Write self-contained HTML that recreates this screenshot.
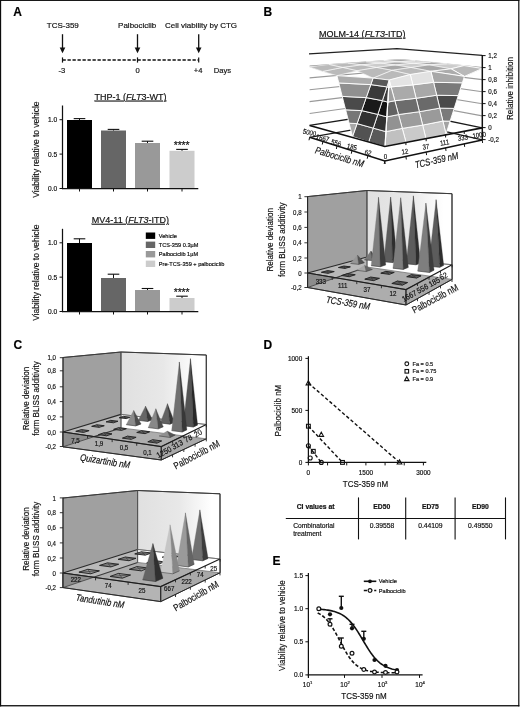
<!DOCTYPE html>
<html lang="en">
<head>
<meta charset="utf-8">
<title>Figure</title>
<style>
html,body{margin:0;padding:0;background:#fff;}
body{width:520px;height:707px;overflow:hidden;position:relative;}
svg{position:absolute;left:0;top:0;display:block;will-change:transform;font-family:"Liberation Sans", sans-serif;}
svg text{stroke:#111;stroke-width:0.18px;}
</style>
</head>
<body>
<svg width="520" height="707" viewBox="0 0 520 707">
<g id="frame" fill="#0c0c0c"><rect x="0" y="0" width="519.4" height="0.95"/><rect x="0" y="0" width="1.15" height="706.4"/><rect x="518.2" y="0" width="1.2" height="706.4"/><rect x="0" y="705.1" width="519.4" height="1.3"/></g>
<g id="panelA">
<text transform="translate(13.2 16)" font-size="12" text-anchor="start" fill="#000" font-weight="bold">A</text>
<text transform="translate(62.8 28.3)" font-size="8" text-anchor="middle" fill="#111">TCS-359</text>
<text transform="translate(137.2 28.3)" font-size="8" text-anchor="middle" fill="#111">Palbociclib</text>
<text transform="translate(201 28.3)" font-size="8" text-anchor="middle" fill="#111">Cell viability by CTG</text>
<line x1="62.5" y1="34.2" x2="62.5" y2="50" stroke="#111" stroke-width="1.3"/>
<polygon points="59.7,47.6 65.3,47.6 62.5,53.2" fill="#111" stroke="none" stroke-width="0.5"/>
<line x1="62.5" y1="57.4" x2="62.5" y2="62.6" stroke="#111" stroke-width="1.2"/>
<line x1="137.5" y1="34.2" x2="137.5" y2="50" stroke="#111" stroke-width="1.3"/>
<polygon points="134.7,47.6 140.3,47.6 137.5,53.2" fill="#111" stroke="none" stroke-width="0.5"/>
<line x1="137.5" y1="57.4" x2="137.5" y2="62.6" stroke="#111" stroke-width="1.2"/>
<line x1="198.7" y1="34.2" x2="198.7" y2="50" stroke="#111" stroke-width="1.3"/>
<polygon points="195.9,47.6 201.5,47.6 198.7,53.2" fill="#111" stroke="none" stroke-width="0.5"/>
<line x1="198.7" y1="57.4" x2="198.7" y2="62.6" stroke="#111" stroke-width="1.2"/>
<line x1="62.5" y1="60" x2="198.7" y2="60" stroke="#111" stroke-width="1.3" stroke-dasharray="3.3 1.7"/>
<text transform="translate(61.8 73)" font-size="7.6" text-anchor="middle" fill="#111">-3</text>
<text transform="translate(137.5 73)" font-size="7.6" text-anchor="middle" fill="#111">0</text>
<text transform="translate(198.2 73)" font-size="7.6" text-anchor="middle" fill="#111">+4</text>
<text transform="translate(213.8 73)" font-size="7.6" text-anchor="start" fill="#111">Days</text>
<text x="130.5" y="99.6" font-size="9" text-anchor="middle" fill="#111" text-decoration="underline">THP-1 (<tspan font-style="italic">FLT</tspan>3-WT)</text>
<text transform="translate(38.8 149.6) rotate(-90) scale(0.86 1)" font-size="9.8" text-anchor="middle" fill="#111">Viability relative to vehicle</text>
<rect x="67" y="120" width="25" height="68.5" fill="#000000" stroke="none" stroke-width="0.5"/>
<line x1="79.5" y1="120" x2="79.5" y2="118.6" stroke="#111" stroke-width="1"/>
<line x1="73.7" y1="118.6" x2="85.3" y2="118.6" stroke="#111" stroke-width="1.1"/>
<rect x="101" y="130.5" width="25" height="58" fill="#666666" stroke="none" stroke-width="0.5"/>
<line x1="113.5" y1="130.5" x2="113.5" y2="129.4" stroke="#111" stroke-width="1"/>
<line x1="107.7" y1="129.4" x2="119.3" y2="129.4" stroke="#111" stroke-width="1.1"/>
<rect x="135" y="143" width="25" height="45.5" fill="#999999" stroke="none" stroke-width="0.5"/>
<line x1="147.5" y1="143" x2="147.5" y2="141.2" stroke="#111" stroke-width="1"/>
<line x1="141.7" y1="141.2" x2="153.3" y2="141.2" stroke="#111" stroke-width="1.1"/>
<rect x="169.5" y="150.8" width="25" height="37.7" fill="#cccccc" stroke="none" stroke-width="0.5"/>
<line x1="182" y1="150.8" x2="182" y2="149.4" stroke="#111" stroke-width="1"/>
<line x1="176.2" y1="149.4" x2="187.8" y2="149.4" stroke="#111" stroke-width="1.1"/>
<line x1="62.5" y1="105.5" x2="62.5" y2="189.1" stroke="#111" stroke-width="1.25"/>
<line x1="61.9" y1="188.5" x2="198.3" y2="188.5" stroke="#111" stroke-width="1.25"/>
<line x1="59.5" y1="119.7" x2="62.5" y2="119.7" stroke="#111" stroke-width="1"/>
<text transform="translate(57.1 122.1)" font-size="6.6" text-anchor="end" fill="#111">1.0</text>
<line x1="59.5" y1="154.1" x2="62.5" y2="154.1" stroke="#111" stroke-width="1"/>
<text transform="translate(57.1 156.5)" font-size="6.6" text-anchor="end" fill="#111">0.5</text>
<line x1="59.5" y1="188.5" x2="62.5" y2="188.5" stroke="#111" stroke-width="1"/>
<text transform="translate(57.1 190.9)" font-size="6.6" text-anchor="end" fill="#111">0.0</text>
<line x1="79.5" y1="188.5" x2="79.5" y2="191.5" stroke="#111" stroke-width="1"/>
<line x1="113.5" y1="188.5" x2="113.5" y2="191.5" stroke="#111" stroke-width="1"/>
<line x1="147.5" y1="188.5" x2="147.5" y2="191.5" stroke="#111" stroke-width="1"/>
<line x1="182" y1="188.5" x2="182" y2="191.5" stroke="#111" stroke-width="1"/>
<text transform="translate(181.6 148.9)" font-size="10.4" text-anchor="middle" fill="#111" letter-spacing="-0.1">****</text>
<text x="130.4" y="222.8" font-size="9" text-anchor="middle" fill="#111" text-decoration="underline">MV4-11 (<tspan font-style="italic">FLT3</tspan>-ITD)</text>
<text transform="translate(38.8 272.75) rotate(-90) scale(0.86 1)" font-size="9.8" text-anchor="middle" fill="#111">Viability relative to vehicle</text>
<rect x="67" y="243" width="25" height="68.5" fill="#000000" stroke="none" stroke-width="0.5"/>
<line x1="79.5" y1="243" x2="79.5" y2="238.8" stroke="#111" stroke-width="1"/>
<line x1="73.7" y1="238.8" x2="85.3" y2="238.8" stroke="#111" stroke-width="1.1"/>
<rect x="101" y="278" width="25" height="33.5" fill="#666666" stroke="none" stroke-width="0.5"/>
<line x1="113.5" y1="278" x2="113.5" y2="274.2" stroke="#111" stroke-width="1"/>
<line x1="107.7" y1="274.2" x2="119.3" y2="274.2" stroke="#111" stroke-width="1.1"/>
<rect x="135" y="290" width="25" height="21.5" fill="#999999" stroke="none" stroke-width="0.5"/>
<line x1="147.5" y1="290" x2="147.5" y2="288.5" stroke="#111" stroke-width="1"/>
<line x1="141.7" y1="288.5" x2="153.3" y2="288.5" stroke="#111" stroke-width="1.1"/>
<rect x="169.5" y="298" width="25" height="13.5" fill="#cccccc" stroke="none" stroke-width="0.5"/>
<line x1="182" y1="298" x2="182" y2="296.2" stroke="#111" stroke-width="1"/>
<line x1="176.2" y1="296.2" x2="187.8" y2="296.2" stroke="#111" stroke-width="1.1"/>
<line x1="62.5" y1="228.8" x2="62.5" y2="312.1" stroke="#111" stroke-width="1.25"/>
<line x1="61.9" y1="311.5" x2="198.3" y2="311.5" stroke="#111" stroke-width="1.25"/>
<line x1="59.5" y1="242.8" x2="62.5" y2="242.8" stroke="#111" stroke-width="1"/>
<text transform="translate(57.1 245.2)" font-size="6.6" text-anchor="end" fill="#111">1.0</text>
<line x1="59.5" y1="277.15" x2="62.5" y2="277.15" stroke="#111" stroke-width="1"/>
<text transform="translate(57.1 279.55)" font-size="6.6" text-anchor="end" fill="#111">0.5</text>
<line x1="59.5" y1="311.5" x2="62.5" y2="311.5" stroke="#111" stroke-width="1"/>
<text transform="translate(57.1 313.9)" font-size="6.6" text-anchor="end" fill="#111">0.0</text>
<line x1="79.5" y1="311.5" x2="79.5" y2="314.5" stroke="#111" stroke-width="1"/>
<line x1="113.5" y1="311.5" x2="113.5" y2="314.5" stroke="#111" stroke-width="1"/>
<line x1="147.5" y1="311.5" x2="147.5" y2="314.5" stroke="#111" stroke-width="1"/>
<line x1="182" y1="311.5" x2="182" y2="314.5" stroke="#111" stroke-width="1"/>
<text transform="translate(181.6 295.9)" font-size="10.4" text-anchor="middle" fill="#111" letter-spacing="-0.1">****</text>
<rect x="145.8" y="232.5" width="9.4" height="6.4" fill="#000000" stroke="none" stroke-width="0.5"/>
<text transform="translate(158.8 237.9)" font-size="5.6" text-anchor="start" fill="#111">Vehicle</text>
<rect x="145.8" y="241.6" width="9.4" height="6.4" fill="#666666" stroke="none" stroke-width="0.5"/>
<text transform="translate(158.8 247)" font-size="5.6" text-anchor="start" fill="#111">TCS-359 0.3µM</text>
<rect x="145.8" y="251" width="9.4" height="6.4" fill="#999999" stroke="none" stroke-width="0.5"/>
<text transform="translate(158.8 256.4)" font-size="5.6" text-anchor="start" fill="#111">Palbociclib 1µM</text>
<rect x="145.8" y="260.6" width="9.4" height="6.4" fill="#cccccc" stroke="none" stroke-width="0.5"/>
<text transform="translate(158.8 266)" font-size="5.6" text-anchor="start" fill="#111">Pre-TCS-359 + palbociclib</text>
</g>
<g id="panelB">
<text transform="translate(263.6 16)" font-size="12" text-anchor="start" fill="#000" font-weight="bold">B</text>
<text x="362.3" y="36.8" font-size="9" text-anchor="middle" fill="#111" text-decoration="underline">MOLM-14 (<tspan font-style="italic">FLT3</tspan>-ITD)</text>
<g id="surfB">
<polyline points="309.6,113.52 400.7,100.7 482.2,115.84" fill="none" stroke="#9a9a9a" stroke-width="1.1"/>
<polyline points="309.6,101.64 400.7,90.4 482.2,103.78" fill="none" stroke="#9a9a9a" stroke-width="1.1"/>
<polyline points="309.6,89.76 400.7,80.1 482.2,91.72" fill="none" stroke="#9a9a9a" stroke-width="1.1"/>
<polyline points="309.6,77.88 400.7,69.8 482.2,79.66" fill="none" stroke="#9a9a9a" stroke-width="1.1"/>
<polyline points="309.6,66 400.7,59.5 482.2,67.6" fill="none" stroke="#9a9a9a" stroke-width="1.1"/>
<polyline points="309.6,125.4 400.7,111 482.2,127.9" fill="none" stroke="#1a1a1a" stroke-width="1.3"/>
<polyline points="309.6,137.28 400.7,121.3 482.2,139.96" fill="none" stroke="#1a1a1a" stroke-width="1.3"/>
<polyline points="309,53.8 397,48.6 482.2,55.3" fill="none" stroke="#222" stroke-width="1.25"/>
<polygon points="383.73,60.6 398.09,61.82 415.26,60.76 400.7,59.5" fill="#a8a8a8" stroke="#a8a8a8" stroke-width="0.3"/>
<polygon points="398.09,61.82 413.25,63.2 430.62,62.18 415.26,60.76" fill="#cccccc" stroke="#cccccc" stroke-width="0.3"/>
<polygon points="413.25,63.2 429.28,64.78 446.84,63.79 430.62,62.18" fill="#a8a8a8" stroke="#a8a8a8" stroke-width="0.3"/>
<polygon points="429.28,64.78 451,68.8 464.01,65.59 446.84,63.79" fill="#cccccc" stroke="#cccccc" stroke-width="0.3"/>
<polygon points="451,68.8 464.4,76.4 482.2,68.5 464.01,65.59" fill="#bababa" stroke="#bababa" stroke-width="0.3"/>
<polygon points="366.17,61.8 380.3,62.97 398.09,61.82 383.73,60.6" fill="#cccccc" stroke="#cccccc" stroke-width="0.3"/>
<polygon points="380.3,62.97 395.24,64.92 413.25,63.2 398.09,61.82" fill="#a8a8a8" stroke="#a8a8a8" stroke-width="0.3"/>
<polygon points="395.24,64.92 411.04,67.42 429.28,64.78 413.25,63.2" fill="#cccccc" stroke="#cccccc" stroke-width="0.3"/>
<polygon points="411.04,67.42 430.9,71.3 451,68.8 429.28,64.78" fill="#a8a8a8" stroke="#a8a8a8" stroke-width="0.3"/>
<polygon points="347.99,63.09 361.86,64.82 380.3,62.97 366.17,61.8" fill="#a8a8a8" stroke="#a8a8a8" stroke-width="0.3"/>
<polygon points="361.86,64.82 376.54,67.4 395.24,64.92 380.3,62.97" fill="#cccccc" stroke="#cccccc" stroke-width="0.3"/>
<polygon points="376.54,67.4 392.1,70.29 411.04,67.42 395.24,64.92" fill="#a8a8a8" stroke="#a8a8a8" stroke-width="0.3"/>
<polygon points="392.1,70.29 410.3,74.5 430.9,71.3 411.04,67.42" fill="#bababa" stroke="#bababa" stroke-width="0.3"/>
<polygon points="329.14,64.49 342.74,67.42 361.86,64.82 347.99,63.09" fill="#bababa" stroke="#bababa" stroke-width="0.3"/>
<polygon points="342.74,67.42 357.13,70.71 376.54,67.4 361.86,64.82" fill="#bababa" stroke="#bababa" stroke-width="0.3"/>
<polygon points="357.13,70.71 373.1,78.1 392.1,70.29 376.54,67.4" fill="#bababa" stroke="#bababa" stroke-width="0.3"/>
<polygon points="373.1,78.1 389.2,80 410.3,74.5 392.1,70.29" fill="#bababa" stroke="#bababa" stroke-width="0.3"/>
<polygon points="309.6,66.89 322.88,71.45 342.74,67.42 329.14,64.49" fill="#bababa" stroke="#bababa" stroke-width="0.3"/>
<polygon points="322.88,71.45 336.9,75.6 357.13,70.71 342.74,67.42" fill="#bababa" stroke="#bababa" stroke-width="0.3"/>
<polyline points="383.73,60.6 398.09,61.82 415.26,60.76 400.7,59.5 383.73,60.6" fill="none" stroke="#fff" stroke-width="0.45"/>
<polyline points="398.09,61.82 413.25,63.2 430.62,62.18 415.26,60.76 398.09,61.82" fill="none" stroke="#fff" stroke-width="0.45"/>
<polyline points="413.25,63.2 429.28,64.78 446.84,63.79 430.62,62.18 413.25,63.2" fill="none" stroke="#fff" stroke-width="0.45"/>
<polyline points="429.28,64.78 451,68.8 464.01,65.59 446.84,63.79 429.28,64.78" fill="none" stroke="#fff" stroke-width="0.45"/>
<polyline points="451,68.8 464.4,76.4 482.2,68.5 464.01,65.59 451,68.8" fill="none" stroke="#fff" stroke-width="0.45"/>
<polyline points="366.17,61.8 380.3,62.97 398.09,61.82 383.73,60.6 366.17,61.8" fill="none" stroke="#fff" stroke-width="0.45"/>
<polyline points="380.3,62.97 395.24,64.92 413.25,63.2 398.09,61.82 380.3,62.97" fill="none" stroke="#fff" stroke-width="0.45"/>
<polyline points="395.24,64.92 411.04,67.42 429.28,64.78 413.25,63.2 395.24,64.92" fill="none" stroke="#fff" stroke-width="0.45"/>
<polyline points="411.04,67.42 430.9,71.3 451,68.8 429.28,64.78 411.04,67.42" fill="none" stroke="#fff" stroke-width="0.45"/>
<polyline points="347.99,63.09 361.86,64.82 380.3,62.97 366.17,61.8 347.99,63.09" fill="none" stroke="#fff" stroke-width="0.45"/>
<polyline points="361.86,64.82 376.54,67.4 395.24,64.92 380.3,62.97 361.86,64.82" fill="none" stroke="#fff" stroke-width="0.45"/>
<polyline points="376.54,67.4 392.1,70.29 411.04,67.42 395.24,64.92 376.54,67.4" fill="none" stroke="#fff" stroke-width="0.45"/>
<polyline points="392.1,70.29 410.3,74.5 430.9,71.3 411.04,67.42 392.1,70.29" fill="none" stroke="#fff" stroke-width="0.45"/>
<polyline points="329.14,64.49 342.74,67.42 361.86,64.82 347.99,63.09 329.14,64.49" fill="none" stroke="#fff" stroke-width="0.45"/>
<polyline points="342.74,67.42 357.13,70.71 376.54,67.4 361.86,64.82 342.74,67.42" fill="none" stroke="#fff" stroke-width="0.45"/>
<polyline points="357.13,70.71 373.1,78.1 392.1,70.29 376.54,67.4 357.13,70.71" fill="none" stroke="#fff" stroke-width="0.45"/>
<polyline points="373.1,78.1 389.2,80 410.3,74.5 392.1,70.29 373.1,78.1" fill="none" stroke="#fff" stroke-width="0.45"/>
<polyline points="309.6,66.89 322.88,71.45 342.74,67.42 329.14,64.49 309.6,66.89" fill="none" stroke="#fff" stroke-width="0.45"/>
<polyline points="322.88,71.45 336.9,75.6 357.13,70.71 342.74,67.42 322.88,71.45" fill="none" stroke="#fff" stroke-width="0.45"/>
<polygon points="451,68.8 464.4,76.4 482.2,68.5 464.01,65.59" fill="#b8b8b8" stroke="#fff" stroke-width="0.9" stroke-linejoin="round"/>
<polygon points="430.9,71.3 451,68.8 464.4,76.4" fill="#acacac" stroke="#fff" stroke-width="0.9" stroke-linejoin="round"/>
<polygon points="450.09,121.2 446,134 442.89,121.07" fill="#a2a2a2" stroke="#fff" stroke-width="0.9" stroke-linejoin="round"/>
<polygon points="454.18,108.4 450.09,121.2 442.89,121.07 439.77,108.14" fill="#7a7a7a" stroke="#fff" stroke-width="0.9" stroke-linejoin="round"/>
<polygon points="458.27,95.6 454.18,108.4 439.77,108.14 436.66,95.22" fill="#4a4a4a" stroke="#fff" stroke-width="0.9" stroke-linejoin="round"/>
<polygon points="462.36,82.8 458.27,95.6 436.66,95.22 433.55,82.29" fill="#7a7a7a" stroke="#fff" stroke-width="0.9" stroke-linejoin="round"/>
<polygon points="430.9,71.3 464.4,76.4 462.36,82.8 433.55,82.29" fill="#a8a8a8" stroke="#fff" stroke-width="0.9" stroke-linejoin="round"/>
<polygon points="442.89,121.07 446,134 425.9,138.5 422.63,125.1" fill="#c8c8c8" stroke="#fff" stroke-width="0.9" stroke-linejoin="round"/>
<polygon points="439.77,108.14 442.89,121.07 422.63,125.1 419.37,111.69" fill="#9a9a9a" stroke="#fff" stroke-width="0.9" stroke-linejoin="round"/>
<polygon points="436.66,95.22 439.77,108.14 419.37,111.69 416.1,98.29" fill="#6a6a6a" stroke="#fff" stroke-width="0.9" stroke-linejoin="round"/>
<polygon points="433.55,82.29 436.66,95.22 416.1,98.29 412.83,84.89" fill="#a8a8a8" stroke="#fff" stroke-width="0.9" stroke-linejoin="round"/>
<polygon points="410.3,74.5 430.9,71.3 433.55,82.29 412.83,84.89" fill="#e2e2e2" stroke="#fff" stroke-width="0.9" stroke-linejoin="round"/>
<polygon points="422.63,125.1 425.9,138.5 406,142.2 402.27,128.38" fill="#cacaca" stroke="#fff" stroke-width="0.9" stroke-linejoin="round"/>
<polygon points="419.37,111.69 422.63,125.1 402.27,128.38 398.53,114.56" fill="#9c9c9c" stroke="#fff" stroke-width="0.9" stroke-linejoin="round"/>
<polygon points="416.1,98.29 419.37,111.69 398.53,114.56 394.8,100.73" fill="#6c6c6c" stroke="#fff" stroke-width="0.9" stroke-linejoin="round"/>
<polygon points="412.83,84.89 416.1,98.29 394.8,100.73 391.07,86.91" fill="#aaaaaa" stroke="#fff" stroke-width="0.9" stroke-linejoin="round"/>
<polygon points="389.2,80 410.3,74.5 412.83,84.89 391.07,86.91" fill="#e4e4e4" stroke="#fff" stroke-width="0.9" stroke-linejoin="round"/>
<polygon points="402.27,128.38 406,142.2 385,146.4 385.93,131.64" fill="#c0c0c0" stroke="#fff" stroke-width="0.9" stroke-linejoin="round"/>
<polygon points="398.53,114.56 402.27,128.38 385.93,131.64 386.87,116.89" fill="#929292" stroke="#fff" stroke-width="0.9" stroke-linejoin="round"/>
<polygon points="394.8,100.73 398.53,114.56 386.87,116.89 387.8,102.13" fill="#626262" stroke="#fff" stroke-width="0.9" stroke-linejoin="round"/>
<polygon points="391.07,86.91 394.8,100.73 387.8,102.13 388.73,87.38" fill="#a0a0a0" stroke="#fff" stroke-width="0.9" stroke-linejoin="round"/>
<polygon points="389.2,80 391.07,86.91 388.73,87.38" fill="#d6d6d6" stroke="#fff" stroke-width="0.9" stroke-linejoin="round"/>
<polygon points="385.93,131.64 385,146.4 368.7,141.9 373.26,128.14" fill="#5a5a5a" stroke="#fff" stroke-width="0.9" stroke-linejoin="round"/>
<polygon points="386.87,116.89 385.93,131.64 373.26,128.14 377.81,114.39" fill="#323232" stroke="#fff" stroke-width="0.9" stroke-linejoin="round"/>
<polygon points="387.8,102.13 386.87,116.89 377.81,114.39 382.37,100.63" fill="#141414" stroke="#fff" stroke-width="0.9" stroke-linejoin="round"/>
<polygon points="388.73,87.38 387.8,102.13 382.37,100.63 386.92,86.88" fill="#3a3a3a" stroke="#fff" stroke-width="0.9" stroke-linejoin="round"/>
<polygon points="389.2,80 388.73,87.38 386.92,86.88" fill="#525252" stroke="#fff" stroke-width="0.9" stroke-linejoin="round"/>
<polygon points="373.26,128.14 368.7,141.9 352.5,136.6 357.08,123.6" fill="#525252" stroke="#fff" stroke-width="0.9" stroke-linejoin="round"/>
<polygon points="377.81,114.39 373.26,128.14 357.08,123.6 361.66,110.6" fill="#323232" stroke="#fff" stroke-width="0.9" stroke-linejoin="round"/>
<polygon points="382.37,100.63 377.81,114.39 361.66,110.6 366.23,97.6" fill="#1a1a1a" stroke="#fff" stroke-width="0.9" stroke-linejoin="round"/>
<polygon points="386.92,86.88 382.37,100.63 366.23,97.6 370.81,84.6" fill="#3a3a3a" stroke="#fff" stroke-width="0.9" stroke-linejoin="round"/>
<polygon points="373.1,78.1 389.2,80 386.92,86.88 370.81,84.6" fill="#5a5a5a" stroke="#fff" stroke-width="0.9" stroke-linejoin="round"/>
<polygon points="357.08,123.6 352.5,136.6 349.07,123.19" fill="#a8a8a8" stroke="#fff" stroke-width="0.9" stroke-linejoin="round"/>
<polygon points="361.66,110.6 357.08,123.6 349.07,123.19 345.64,109.79" fill="#767676" stroke="#fff" stroke-width="0.9" stroke-linejoin="round"/>
<polygon points="366.23,97.6 361.66,110.6 345.64,109.79 342.21,96.38" fill="#4a4a4a" stroke="#fff" stroke-width="0.9" stroke-linejoin="round"/>
<polygon points="370.81,84.6 366.23,97.6 342.21,96.38 338.79,82.97" fill="#909090" stroke="#fff" stroke-width="0.9" stroke-linejoin="round"/>
<polygon points="336.9,75.6 373.1,78.1 370.81,84.6 338.79,82.97" fill="#acacac" stroke="#fff" stroke-width="0.9" stroke-linejoin="round"/>
<line x1="389.2" y1="80" x2="385" y2="146.4" stroke="#fff" stroke-width="1.2"/>
<polyline points="309.6,125.4 384.8,146.5 482.2,127.9" fill="none" stroke="#111" stroke-width="1.6"/>
<polyline points="309.6,137.28 384.8,161 482.2,139.96" fill="none" stroke="#111" stroke-width="1.6"/>
<line x1="482.3" y1="55" x2="482.3" y2="140.2" stroke="#111" stroke-width="1.5"/>
<line x1="482.3" y1="139.6" x2="485.6" y2="139.6" stroke="#111" stroke-width="1"/>
<text transform="translate(488.2 142.2) scale(0.84 1)" font-size="7.4" text-anchor="start" fill="#111">-0,2</text>
<line x1="482.3" y1="127.6" x2="485.6" y2="127.6" stroke="#111" stroke-width="1"/>
<text transform="translate(488.2 130.2) scale(0.84 1)" font-size="7.4" text-anchor="start" fill="#111">0</text>
<line x1="482.3" y1="115.6" x2="485.6" y2="115.6" stroke="#111" stroke-width="1"/>
<text transform="translate(488.2 118.2) scale(0.84 1)" font-size="7.4" text-anchor="start" fill="#111">0,2</text>
<line x1="482.3" y1="103.6" x2="485.6" y2="103.6" stroke="#111" stroke-width="1"/>
<text transform="translate(488.2 106.2) scale(0.84 1)" font-size="7.4" text-anchor="start" fill="#111">0,4</text>
<line x1="482.3" y1="91.6" x2="485.6" y2="91.6" stroke="#111" stroke-width="1"/>
<text transform="translate(488.2 94.2) scale(0.84 1)" font-size="7.4" text-anchor="start" fill="#111">0,6</text>
<line x1="482.3" y1="79.6" x2="485.6" y2="79.6" stroke="#111" stroke-width="1"/>
<text transform="translate(488.2 82.2) scale(0.84 1)" font-size="7.4" text-anchor="start" fill="#111">0,8</text>
<line x1="482.3" y1="67.6" x2="485.6" y2="67.6" stroke="#111" stroke-width="1"/>
<text transform="translate(488.2 70.2) scale(0.84 1)" font-size="7.4" text-anchor="start" fill="#111">1</text>
<line x1="482.3" y1="55.6" x2="485.6" y2="55.6" stroke="#111" stroke-width="1"/>
<text transform="translate(488.2 58.2) scale(0.84 1)" font-size="7.4" text-anchor="start" fill="#111">1,2</text>
<text transform="translate(512.8 88.5) rotate(-90) scale(0.82 1)" font-size="9.8" text-anchor="middle" fill="#111">Relative inhibition</text>
<line x1="309.6" y1="137.28" x2="309" y2="140.28" stroke="#111" stroke-width="1"/>
<line x1="384.8" y1="161" x2="385.2" y2="164" stroke="#111" stroke-width="1"/>
<line x1="322.88" y1="141.53" x2="322.28" y2="144.53" stroke="#111" stroke-width="1"/>
<line x1="405.92" y1="156.48" x2="406.32" y2="159.48" stroke="#111" stroke-width="1"/>
<line x1="336.96" y1="146.01" x2="336.36" y2="149.01" stroke="#111" stroke-width="1"/>
<line x1="426.17" y1="152.12" x2="426.57" y2="155.12" stroke="#111" stroke-width="1"/>
<line x1="351.92" y1="150.73" x2="351.32" y2="153.73" stroke="#111" stroke-width="1"/>
<line x1="445.6" y1="147.92" x2="446" y2="150.92" stroke="#111" stroke-width="1"/>
<line x1="367.83" y1="155.72" x2="367.23" y2="158.72" stroke="#111" stroke-width="1"/>
<line x1="464.26" y1="143.87" x2="464.66" y2="146.87" stroke="#111" stroke-width="1"/>
<line x1="384.8" y1="161" x2="384.2" y2="164" stroke="#111" stroke-width="1"/>
<line x1="482.2" y1="139.96" x2="482.6" y2="142.96" stroke="#111" stroke-width="1"/>
<line x1="405.92" y1="142.47" x2="405.92" y2="145.07" stroke="#111" stroke-width="1"/>
<line x1="426.17" y1="138.6" x2="426.17" y2="141.2" stroke="#111" stroke-width="1"/>
<line x1="445.6" y1="134.89" x2="445.6" y2="137.49" stroke="#111" stroke-width="1"/>
<line x1="464.26" y1="131.33" x2="464.26" y2="133.93" stroke="#111" stroke-width="1"/>
<text transform="translate(309 135.08) rotate(13) scale(0.84 1)" font-size="7.2" text-anchor="middle" fill="#111">5000</text>
<text transform="translate(322.08 140.53) rotate(13) scale(0.84 1)" font-size="7.2" text-anchor="middle" fill="#111">1667</text>
<text transform="translate(335.56 145.41) rotate(13) scale(0.84 1)" font-size="7.2" text-anchor="middle" fill="#111">556</text>
<text transform="translate(351.32 149.33) rotate(13) scale(0.84 1)" font-size="7.2" text-anchor="middle" fill="#111">185</text>
<text transform="translate(367.43 155.12) rotate(13) scale(0.84 1)" font-size="7.2" text-anchor="middle" fill="#111">62</text>
<text transform="translate(385.4 159.4) scale(0.84 1)" font-size="7.2" text-anchor="middle" fill="#111">0</text>
<text transform="translate(405.32 153.88) rotate(-9) scale(0.84 1)" font-size="7.2" text-anchor="middle" fill="#111">12</text>
<text transform="translate(426.37 149.32) rotate(-9) scale(0.84 1)" font-size="7.2" text-anchor="middle" fill="#111">37</text>
<text transform="translate(445 144.92) rotate(-9) scale(0.84 1)" font-size="7.2" text-anchor="middle" fill="#111">111</text>
<text transform="translate(463.26 140.27) rotate(-9) scale(0.84 1)" font-size="7.2" text-anchor="middle" fill="#111">333</text>
<text transform="translate(479.6 137.56) rotate(-9) scale(0.84 1)" font-size="7.2" text-anchor="middle" fill="#111">1000</text>
<text transform="translate(338.6 160.2) rotate(16.5) scale(0.8 1)" font-size="9.8" text-anchor="middle" fill="#111" font-style="italic">Palbociclib nM</text>
<text transform="translate(437.3 163.4) rotate(-12.5) scale(0.8 1)" font-size="9.8" text-anchor="middle" fill="#111" font-style="italic">TCS-359 nM</text>
</g>
<g id="blissB">
<defs><linearGradient id="wg1" x1="0" y1="0" x2="1" y2="0"><stop offset="0" stop-color="#e0e0e0"/><stop offset="0.5" stop-color="#e8e8e8"/><stop offset="0.9" stop-color="#ffffff"/></linearGradient></defs>
<polygon points="307.6,196.6 367,190.5 367,267 307.6,287.5" fill="#a0a0a0" stroke="#4a4a4a" stroke-width="0.9"/>
<polygon points="367,190.5 452,193.7 452,279.4 367,267" fill="url(#wg1)" stroke="#4a4a4a" stroke-width="0.9"/>
<polygon points="307.6,273 406,289.6 452,264.7 367,257" fill="#adadad" stroke="none" stroke-width="0.5"/>
<polygon points="307.6,273 367,257 367,267 335.82,277.76" fill="#b9b9b9" stroke="none" stroke-width="0.5"/>
<polygon points="307.6,273 406,289.6 406,305 307.6,287.5" fill="#adadad" stroke="#4a4a4a" stroke-width="0.9"/>
<polygon points="406,289.6 452,264.7 452,279.4 406,305" fill="#a9a9a9" stroke="#4a4a4a" stroke-width="0.9"/>
<polygon points="307.6,273 307.6,287.5 335.82,277.76" fill="#8c8c8c" stroke="#4a4a4a" stroke-width="0.9"/>
<polygon points="367,257 367,267 452,279.4 452,264.7" fill="#ffffff" stroke="#6a6a6a" stroke-width="0.7"/>
<line x1="335.82" y1="277.76" x2="367" y2="267" stroke="#3a3a3a" stroke-width="1.1"/>
<line x1="307.6" y1="273" x2="367" y2="257" stroke="#2a2a2a" stroke-width="1.1"/>
<line x1="367" y1="257" x2="452" y2="264.7" stroke="#6a6a6a" stroke-width="0.8"/>
<polyline points="307.6,273 406,289.6 452,264.7" fill="none" stroke="#1e1e1e" stroke-width="1.2"/>
<polyline points="307.6,287.5 406,305 452,279.4" fill="none" stroke="#2a2a2a" stroke-width="1"/>
<line x1="406" y1="289.6" x2="406" y2="305" stroke="#2a2a2a" stroke-width="1.1"/>
<line x1="452" y1="193.7" x2="452" y2="279.4" stroke="#3a3a3a" stroke-width="1.1"/>
<line x1="367" y1="190.5" x2="367" y2="267" stroke="#555" stroke-width="0.9"/>
<polyline points="307.6,196.6 367,190.5 452,193.7" fill="none" stroke="#3a3a3a" stroke-width="1"/>
<polygon points="364.43,259.79 372.28,260.58 370.92,251.04" fill="#787878" stroke="#787878" stroke-width="0.3" stroke-linejoin="round"/>
<polygon points="372.28,260.58 377.37,259.08 370.92,251.04" fill="#3a3a3a" stroke="#3a3a3a" stroke-width="0.3" stroke-linejoin="round"/>
<polyline points="364.43,259.79 372.28,260.58 377.37,259.08" fill="none" stroke="#2e2e2e" stroke-width="0.5"/>
<polygon points="383.78,261.67 392.56,262.55 390.6,197.09" fill="#5c5c5c" stroke="#5c5c5c" stroke-width="0.3" stroke-linejoin="round"/>
<polygon points="392.56,262.55 397.39,260.91 390.6,197.09" fill="#2e2e2e" stroke="#2e2e2e" stroke-width="0.3" stroke-linejoin="round"/>
<polyline points="383.78,261.67 392.56,262.55 397.39,260.91" fill="none" stroke="#2e2e2e" stroke-width="0.5"/>
<polygon points="406.19,263.77 416.07,264.76 413.38,195.86" fill="#5c5c5c" stroke="#5c5c5c" stroke-width="0.3" stroke-linejoin="round"/>
<polygon points="416.07,264.76 420.55,262.96 413.38,195.86" fill="#2e2e2e" stroke="#2e2e2e" stroke-width="0.3" stroke-linejoin="round"/>
<polyline points="406.19,263.77 416.07,264.76 420.55,262.96" fill="none" stroke="#2e2e2e" stroke-width="0.5"/>
<polygon points="428.5,266.14 439.71,267.26 436.11,199.71" fill="#5c5c5c" stroke="#5c5c5c" stroke-width="0.3" stroke-linejoin="round"/>
<polygon points="439.71,267.26 443.68,265.27 436.11,199.71" fill="#2e2e2e" stroke="#2e2e2e" stroke-width="0.3" stroke-linejoin="round"/>
<polyline points="428.5,266.14 439.71,267.26 443.68,265.27" fill="none" stroke="#2e2e2e" stroke-width="0.5"/>
<polygon points="350.52,263.44 358.56,264.37 357.45,255.06" fill="#969696" stroke="#969696" stroke-width="0.3" stroke-linejoin="round"/>
<polygon points="358.56,264.37 364.35,262.67 357.45,255.06" fill="#505050" stroke="#505050" stroke-width="0.3" stroke-linejoin="round"/>
<polyline points="350.52,263.44 358.56,264.37 364.35,262.67" fill="none" stroke="#2e2e2e" stroke-width="0.5"/>
<polygon points="371.17,265.67 380.23,266.72 378.48,197.26" fill="#7e7e7e" stroke="#7e7e7e" stroke-width="0.3" stroke-linejoin="round"/>
<polygon points="380.23,266.72 385.76,264.85 378.48,197.26" fill="#3c3c3c" stroke="#3c3c3c" stroke-width="0.3" stroke-linejoin="round"/>
<polyline points="371.17,265.67 380.23,266.72 385.76,264.85" fill="none" stroke="#2e2e2e" stroke-width="0.5"/>
<polygon points="392.91,268.19 403.2,269.38 400.65,197.74" fill="#7e7e7e" stroke="#7e7e7e" stroke-width="0.3" stroke-linejoin="round"/>
<polygon points="403.2,269.38 408.36,267.3 400.65,197.74" fill="#3c3c3c" stroke="#3c3c3c" stroke-width="0.3" stroke-linejoin="round"/>
<polyline points="392.91,268.19 403.2,269.38 408.36,267.3" fill="none" stroke="#2e2e2e" stroke-width="0.5"/>
<polygon points="417.66,271.05 429.45,272.42 425.89,203.07" fill="#7e7e7e" stroke="#7e7e7e" stroke-width="0.3" stroke-linejoin="round"/>
<polygon points="429.45,272.42 434.08,270.09 425.89,203.07" fill="#3c3c3c" stroke="#3c3c3c" stroke-width="0.3" stroke-linejoin="round"/>
<polyline points="417.66,271.05 429.45,272.42 434.08,270.09" fill="none" stroke="#2e2e2e" stroke-width="0.5"/>
<polygon points="338.47,267.52 345.03,268.41 350.34,266.85 343.83,266.03" fill="#6a6a6a" stroke="#1c1c1c" stroke-width="0.9" stroke-linejoin="round"/>
<line x1="338.47" y1="267.52" x2="350.34" y2="266.85" stroke="#2a2a2a" stroke-width="0.55"/>
<line x1="345.03" y1="268.41" x2="343.83" y2="266.03" stroke="#2a2a2a" stroke-width="0.55"/>
<polygon points="356.68,270.27 366.01,271.53 364.56,265.32" fill="#a8a8a8" stroke="#a8a8a8" stroke-width="0.3" stroke-linejoin="round"/>
<polygon points="366.01,271.53 372.41,269.37 364.56,265.32" fill="#666666" stroke="#666666" stroke-width="0.3" stroke-linejoin="round"/>
<polyline points="356.68,270.27 366.01,271.53 372.41,269.37" fill="none" stroke="#2e2e2e" stroke-width="0.5"/>
<polygon points="380.82,273.21 389.38,274.37 394.2,272.43 385.78,271.36" fill="#6a6a6a" stroke="#1c1c1c" stroke-width="0.9" stroke-linejoin="round"/>
<line x1="380.82" y1="273.21" x2="394.2" y2="272.43" stroke="#2a2a2a" stroke-width="0.55"/>
<line x1="389.38" y1="274.37" x2="385.78" y2="271.36" stroke="#2a2a2a" stroke-width="0.55"/>
<polygon points="406.76,276.7 416.68,278.04 421.06,275.84 411.35,274.62" fill="#6a6a6a" stroke="#1c1c1c" stroke-width="0.9" stroke-linejoin="round"/>
<line x1="406.76" y1="276.7" x2="421.06" y2="275.84" stroke="#2a2a2a" stroke-width="0.55"/>
<line x1="416.68" y1="278.04" x2="411.35" y2="274.62" stroke="#2a2a2a" stroke-width="0.55"/>
<polygon points="321.4,272.3 328.07,273.37 334.21,271.56 327.59,270.58" fill="#6a6a6a" stroke="#1c1c1c" stroke-width="0.9" stroke-linejoin="round"/>
<line x1="321.4" y1="272.3" x2="334.21" y2="271.56" stroke="#2a2a2a" stroke-width="0.55"/>
<line x1="328.07" y1="273.37" x2="327.59" y2="270.58" stroke="#2a2a2a" stroke-width="0.55"/>
<polygon points="341.58,275.51 349.24,276.74 355.22,274.71 347.64,273.58" fill="#6a6a6a" stroke="#1c1c1c" stroke-width="0.9" stroke-linejoin="round"/>
<line x1="341.58" y1="275.51" x2="355.22" y2="274.71" stroke="#2a2a2a" stroke-width="0.55"/>
<line x1="349.24" y1="276.74" x2="347.64" y2="273.58" stroke="#2a2a2a" stroke-width="0.55"/>
<polygon points="364.82,279.2 373.7,280.63 379.41,278.33 370.66,277.03" fill="#6a6a6a" stroke="#1c1c1c" stroke-width="0.9" stroke-linejoin="round"/>
<line x1="364.82" y1="279.2" x2="379.41" y2="278.33" stroke="#2a2a2a" stroke-width="0.55"/>
<line x1="373.7" y1="280.63" x2="370.66" y2="277.03" stroke="#2a2a2a" stroke-width="0.55"/>
<polygon points="391.87,283.51 402.31,285.18 407.56,282.55 397.35,281.03" fill="#6a6a6a" stroke="#1c1c1c" stroke-width="0.9" stroke-linejoin="round"/>
<line x1="391.87" y1="283.51" x2="407.56" y2="282.55" stroke="#2a2a2a" stroke-width="0.55"/>
<line x1="402.31" y1="285.18" x2="397.35" y2="281.03" stroke="#2a2a2a" stroke-width="0.55"/>
<line x1="307.6" y1="196.4" x2="307.6" y2="287.8" stroke="#222" stroke-width="1"/>
<line x1="304.4" y1="196.7" x2="307.6" y2="196.7" stroke="#222" stroke-width="0.9"/>
<text transform="translate(301.6 199.3) scale(0.84 1)" font-size="7.3" text-anchor="end" fill="#111">1</text>
<line x1="304.4" y1="212" x2="307.6" y2="212" stroke="#222" stroke-width="0.9"/>
<text transform="translate(301.6 214.6) scale(0.84 1)" font-size="7.3" text-anchor="end" fill="#111">0,8</text>
<line x1="304.4" y1="227.4" x2="307.6" y2="227.4" stroke="#222" stroke-width="0.9"/>
<text transform="translate(301.6 230) scale(0.84 1)" font-size="7.3" text-anchor="end" fill="#111">0,6</text>
<line x1="304.4" y1="242.8" x2="307.6" y2="242.8" stroke="#222" stroke-width="0.9"/>
<text transform="translate(301.6 245.4) scale(0.84 1)" font-size="7.3" text-anchor="end" fill="#111">0,4</text>
<line x1="304.4" y1="258" x2="307.6" y2="258" stroke="#222" stroke-width="0.9"/>
<text transform="translate(301.6 260.6) scale(0.84 1)" font-size="7.3" text-anchor="end" fill="#111">0,2</text>
<line x1="304.4" y1="273" x2="307.6" y2="273" stroke="#222" stroke-width="0.9"/>
<text transform="translate(301.6 275.6) scale(0.84 1)" font-size="7.3" text-anchor="end" fill="#111">0</text>
<line x1="304.4" y1="287.5" x2="307.6" y2="287.5" stroke="#222" stroke-width="0.9"/>
<text transform="translate(301.6 290.1) scale(0.84 1)" font-size="7.3" text-anchor="end" fill="#111">-0,2</text>
<line x1="332.2" y1="277.15" x2="332.2" y2="279.95" stroke="#222" stroke-width="0.9"/>
<line x1="356.8" y1="281.3" x2="356.8" y2="284.1" stroke="#222" stroke-width="0.9"/>
<line x1="381.4" y1="285.45" x2="381.4" y2="288.25" stroke="#222" stroke-width="0.9"/>
<line x1="417.5" y1="298.6" x2="417.5" y2="301.2" stroke="#222" stroke-width="0.9"/>
<line x1="417.5" y1="283.38" x2="417.5" y2="285.98" stroke="#222" stroke-width="0.9"/>
<line x1="429" y1="292.2" x2="429" y2="294.8" stroke="#222" stroke-width="0.9"/>
<line x1="429" y1="277.15" x2="429" y2="279.75" stroke="#222" stroke-width="0.9"/>
<line x1="440.5" y1="285.8" x2="440.5" y2="288.4" stroke="#222" stroke-width="0.9"/>
<line x1="440.5" y1="270.93" x2="440.5" y2="273.53" stroke="#222" stroke-width="0.9"/>
<line x1="452" y1="279.4" x2="452" y2="282" stroke="#222" stroke-width="0.9"/>
<line x1="452" y1="264.7" x2="452" y2="267.3" stroke="#222" stroke-width="0.9"/>
<text transform="translate(320.8 284.1) scale(0.86 1)" font-size="7.2" text-anchor="middle" fill="#111">333</text>
<text transform="translate(342.8 288) scale(0.86 1)" font-size="7.2" text-anchor="middle" fill="#111">111</text>
<text transform="translate(367 292.2) scale(0.86 1)" font-size="7.2" text-anchor="middle" fill="#111">37</text>
<text transform="translate(393 296.3) scale(0.86 1)" font-size="7.2" text-anchor="middle" fill="#111">12</text>
<text transform="translate(410.6 298.4) rotate(-28) scale(0.9 1)" font-size="7.9" text-anchor="middle" fill="#111">1667</text>
<text transform="translate(423.8 291) rotate(-28) scale(0.9 1)" font-size="7.9" text-anchor="middle" fill="#111">556</text>
<text transform="translate(435.6 284.4) rotate(-28) scale(0.9 1)" font-size="7.9" text-anchor="middle" fill="#111">185</text>
<text transform="translate(444.8 278.4) rotate(-28) scale(0.9 1)" font-size="7.9" text-anchor="middle" fill="#111">62</text>
<text transform="translate(347.6 306.2) rotate(9) scale(0.81 1)" font-size="9.7" text-anchor="middle" fill="#111" font-style="italic">TCS-359 nM</text>
<text transform="translate(436.6 301.6) rotate(-28) scale(0.81 1)" font-size="9.7" text-anchor="middle" fill="#111">Palbociclib nM</text>
<text transform="translate(273.4 239.8) rotate(-90) scale(0.82 1)" font-size="9.8" text-anchor="middle" fill="#111">Relative deviation</text>
<text transform="translate(285.2 239.8) rotate(-90) scale(0.82 1)" font-size="9.8" text-anchor="middle" fill="#111">form BLISS additivity</text>
</g>
</g>
<g id="panelC">
<text transform="translate(13.6 349)" font-size="12" text-anchor="start" fill="#000" font-weight="bold">C</text>
<g id="c1">
<defs><linearGradient id="wg2" x1="0" y1="0" x2="1" y2="0"><stop offset="0" stop-color="#e0e0e0"/><stop offset="0.5" stop-color="#e8e8e8"/><stop offset="0.9" stop-color="#ffffff"/></linearGradient></defs>
<polygon points="63,357.5 121,352 121,427.9 63,446.8" fill="#a0a0a0" stroke="#4a4a4a" stroke-width="0.9"/>
<polygon points="121,352 206.3,355 206.3,438.8 121,427.9" fill="url(#wg2)" stroke="#4a4a4a" stroke-width="0.9"/>
<polygon points="63,432 161.3,446.6 206.3,424.5 121,414.4" fill="#adadad" stroke="none" stroke-width="0.5"/>
<polygon points="63,432 121,414.4 121,427.9 94.2,436.63" fill="#b9b9b9" stroke="none" stroke-width="0.5"/>
<polygon points="63,432 161.3,446.6 161.3,460 63,446.8" fill="#adadad" stroke="#4a4a4a" stroke-width="0.9"/>
<polygon points="161.3,446.6 206.3,424.5 206.3,438.8 161.3,460" fill="#a9a9a9" stroke="#4a4a4a" stroke-width="0.9"/>
<polygon points="63,432 63,446.8 94.2,436.63" fill="#8c8c8c" stroke="#4a4a4a" stroke-width="0.9"/>
<polygon points="121,414.4 121,427.9 206.3,438.8 206.3,424.5" fill="#ffffff" stroke="#6a6a6a" stroke-width="0.7"/>
<line x1="94.2" y1="436.63" x2="121" y2="427.9" stroke="#3a3a3a" stroke-width="1.1"/>
<line x1="63" y1="432" x2="121" y2="414.4" stroke="#2a2a2a" stroke-width="1.1"/>
<line x1="121" y1="414.4" x2="206.3" y2="424.5" stroke="#6a6a6a" stroke-width="0.8"/>
<polyline points="63,432 161.3,446.6 206.3,424.5" fill="none" stroke="#1e1e1e" stroke-width="1.2"/>
<polyline points="63,446.8 161.3,460 206.3,438.8" fill="none" stroke="#2a2a2a" stroke-width="1"/>
<line x1="161.3" y1="446.6" x2="161.3" y2="460" stroke="#2a2a2a" stroke-width="1.1"/>
<line x1="206.3" y1="355" x2="206.3" y2="438.8" stroke="#3a3a3a" stroke-width="1.1"/>
<line x1="121" y1="352" x2="121" y2="427.9" stroke="#555" stroke-width="0.9"/>
<polyline points="63,357.5 121,352 206.3,355" fill="none" stroke="#3a3a3a" stroke-width="1"/>
<polygon points="119.22,417.72 126.23,418.58 130.41,417.22 123.49,416.39" fill="#808080" stroke="#1c1c1c" stroke-width="0.9" stroke-linejoin="round"/>
<line x1="119.22" y1="417.72" x2="130.41" y2="417.22" stroke="#2a2a2a" stroke-width="0.55"/>
<line x1="126.23" y1="418.58" x2="123.49" y2="416.39" stroke="#2a2a2a" stroke-width="0.55"/>
<polygon points="138.39,420.31 147.58,421.44 145.49,406.18" fill="#666666" stroke="#666666" stroke-width="0.3" stroke-linejoin="round"/>
<polygon points="147.58,421.44 152.52,419.64 145.49,406.18" fill="#3a3a3a" stroke="#3a3a3a" stroke-width="0.3" stroke-linejoin="round"/>
<polyline points="138.39,420.31 147.58,421.44 152.52,419.64" fill="none" stroke="#2e2e2e" stroke-width="0.5"/>
<polygon points="160.27,422.96 169.92,424.14 167.43,403.7" fill="#626262" stroke="#626262" stroke-width="0.3" stroke-linejoin="round"/>
<polygon points="169.92,424.14 174.52,422.25 167.43,403.7" fill="#363636" stroke="#363636" stroke-width="0.3" stroke-linejoin="round"/>
<polyline points="160.27,422.96 169.92,424.14 174.52,422.25" fill="none" stroke="#2e2e2e" stroke-width="0.5"/>
<polygon points="183.22,425.74 193.36,426.98 190.45,358.66" fill="#545454" stroke="#545454" stroke-width="0.3" stroke-linejoin="round"/>
<polygon points="193.36,426.98 197.6,424.99 190.45,358.66" fill="#282828" stroke="#282828" stroke-width="0.3" stroke-linejoin="round"/>
<polyline points="183.22,425.74 193.36,426.98 197.6,424.99" fill="none" stroke="#2e2e2e" stroke-width="0.5"/>
<polygon points="106.11,421.83 113.34,422.77 117.93,421.27 110.78,420.37" fill="#808080" stroke="#1c1c1c" stroke-width="0.9" stroke-linejoin="round"/>
<line x1="106.11" y1="421.83" x2="117.93" y2="421.27" stroke="#2a2a2a" stroke-width="0.55"/>
<line x1="113.34" y1="422.77" x2="110.78" y2="420.37" stroke="#2a2a2a" stroke-width="0.55"/>
<polygon points="126.16,424.65 135.67,425.88 133.66,410.48" fill="#8a8a8a" stroke="#8a8a8a" stroke-width="0.3" stroke-linejoin="round"/>
<polygon points="135.67,425.88 141.09,423.91 133.66,410.48" fill="#4c4c4c" stroke="#4c4c4c" stroke-width="0.3" stroke-linejoin="round"/>
<polyline points="126.16,424.65 135.67,425.88 141.09,423.91" fill="none" stroke="#2e2e2e" stroke-width="0.5"/>
<polygon points="148.19,427.54 158.19,428.84 155.77,408.74" fill="#888888" stroke="#888888" stroke-width="0.3" stroke-linejoin="round"/>
<polygon points="158.19,428.84 163.26,426.75 155.77,408.74" fill="#4c4c4c" stroke="#4c4c4c" stroke-width="0.3" stroke-linejoin="round"/>
<polyline points="148.19,427.54 158.19,428.84 163.26,426.75" fill="none" stroke="#2e2e2e" stroke-width="0.5"/>
<polygon points="171.68,430.58 182.22,431.95 179.33,361.96" fill="#707070" stroke="#707070" stroke-width="0.3" stroke-linejoin="round"/>
<polygon points="182.22,431.95 186.9,429.74 179.33,361.96" fill="#383838" stroke="#383838" stroke-width="0.3" stroke-linejoin="round"/>
<polyline points="171.68,430.58 182.22,431.95 186.9,429.74" fill="none" stroke="#2e2e2e" stroke-width="0.5"/>
<polygon points="91.7,426.35 99.17,427.37 104.22,425.73 96.85,424.74" fill="#808080" stroke="#1c1c1c" stroke-width="0.9" stroke-linejoin="round"/>
<line x1="91.7" y1="426.35" x2="104.22" y2="425.73" stroke="#2a2a2a" stroke-width="0.55"/>
<line x1="99.17" y1="427.37" x2="96.85" y2="424.74" stroke="#2a2a2a" stroke-width="0.55"/>
<polygon points="113.66,429.35 121.53,430.43 126.31,428.69 118.56,427.65" fill="#808080" stroke="#1c1c1c" stroke-width="0.9" stroke-linejoin="round"/>
<line x1="113.66" y1="429.35" x2="126.31" y2="428.69" stroke="#2a2a2a" stroke-width="0.55"/>
<line x1="121.53" y1="430.43" x2="118.56" y2="427.65" stroke="#2a2a2a" stroke-width="0.55"/>
<polygon points="136.79,432.51 145.09,433.65 149.59,431.8 141.42,430.71" fill="#808080" stroke="#1c1c1c" stroke-width="0.9" stroke-linejoin="round"/>
<line x1="136.79" y1="432.51" x2="149.59" y2="431.8" stroke="#2a2a2a" stroke-width="0.55"/>
<line x1="145.09" y1="433.65" x2="141.42" y2="430.71" stroke="#2a2a2a" stroke-width="0.55"/>
<polygon points="159.08,435.94 170.04,437.45 167.2,431.07" fill="#909090" stroke="#909090" stroke-width="0.3" stroke-linejoin="round"/>
<polygon points="170.04,437.45 175.23,435 167.2,431.07" fill="#555555" stroke="#555555" stroke-width="0.3" stroke-linejoin="round"/>
<polyline points="159.08,435.94 170.04,437.45 175.23,435" fill="none" stroke="#2e2e2e" stroke-width="0.5"/>
<polygon points="75.8,431.33 83.51,432.46 89.09,430.63 81.49,429.55" fill="#808080" stroke="#1c1c1c" stroke-width="0.9" stroke-linejoin="round"/>
<line x1="75.8" y1="431.33" x2="89.09" y2="430.63" stroke="#2a2a2a" stroke-width="0.55"/>
<line x1="83.51" y1="432.46" x2="81.49" y2="429.55" stroke="#2a2a2a" stroke-width="0.55"/>
<polygon points="98.49,434.63 106.64,435.82 111.95,433.89 103.92,432.75" fill="#808080" stroke="#1c1c1c" stroke-width="0.9" stroke-linejoin="round"/>
<line x1="98.49" y1="434.63" x2="111.95" y2="433.89" stroke="#2a2a2a" stroke-width="0.55"/>
<line x1="106.64" y1="435.82" x2="103.92" y2="432.75" stroke="#2a2a2a" stroke-width="0.55"/>
<polygon points="122.46,438.12 131.08,439.37 136.08,437.32 127.6,436.12" fill="#808080" stroke="#1c1c1c" stroke-width="0.9" stroke-linejoin="round"/>
<line x1="122.46" y1="438.12" x2="136.08" y2="437.32" stroke="#2a2a2a" stroke-width="0.55"/>
<line x1="131.08" y1="439.37" x2="127.6" y2="436.12" stroke="#2a2a2a" stroke-width="0.55"/>
<polygon points="147.83,441.81 156.97,443.14 161.61,440.95 152.64,439.68" fill="#808080" stroke="#1c1c1c" stroke-width="0.9" stroke-linejoin="round"/>
<line x1="147.83" y1="441.81" x2="161.61" y2="440.95" stroke="#2a2a2a" stroke-width="0.55"/>
<line x1="156.97" y1="443.14" x2="152.64" y2="439.68" stroke="#2a2a2a" stroke-width="0.55"/>
<line x1="63" y1="357.4" x2="63" y2="446.8" stroke="#222" stroke-width="1"/>
<line x1="59.8" y1="357.7" x2="63" y2="357.7" stroke="#222" stroke-width="0.9"/>
<text transform="translate(56 360.3) scale(0.84 1)" font-size="7.3" text-anchor="end" fill="#111">1,0</text>
<line x1="59.8" y1="370.8" x2="63" y2="370.8" stroke="#222" stroke-width="0.9"/>
<text transform="translate(56 373.4) scale(0.84 1)" font-size="7.3" text-anchor="end" fill="#111">0,8</text>
<line x1="59.8" y1="386.8" x2="63" y2="386.8" stroke="#222" stroke-width="0.9"/>
<text transform="translate(56 389.4) scale(0.84 1)" font-size="7.3" text-anchor="end" fill="#111">0,6</text>
<line x1="59.8" y1="401.6" x2="63" y2="401.6" stroke="#222" stroke-width="0.9"/>
<text transform="translate(56 404.2) scale(0.84 1)" font-size="7.3" text-anchor="end" fill="#111">0,4</text>
<line x1="59.8" y1="416.9" x2="63" y2="416.9" stroke="#222" stroke-width="0.9"/>
<text transform="translate(56 419.5) scale(0.84 1)" font-size="7.3" text-anchor="end" fill="#111">0,2</text>
<line x1="59.8" y1="432" x2="63" y2="432" stroke="#222" stroke-width="0.9"/>
<text transform="translate(56 434.6) scale(0.84 1)" font-size="7.3" text-anchor="end" fill="#111">0,0</text>
<line x1="59.8" y1="446.5" x2="63" y2="446.5" stroke="#222" stroke-width="0.9"/>
<text transform="translate(56 449.1) scale(0.84 1)" font-size="7.3" text-anchor="end" fill="#111">-0,2</text>
<line x1="87.58" y1="435.65" x2="87.58" y2="438.45" stroke="#222" stroke-width="0.9"/>
<line x1="112.15" y1="439.3" x2="112.15" y2="442.1" stroke="#222" stroke-width="0.9"/>
<line x1="136.73" y1="442.95" x2="136.73" y2="445.75" stroke="#222" stroke-width="0.9"/>
<line x1="172.55" y1="454.7" x2="172.55" y2="457.3" stroke="#222" stroke-width="0.9"/>
<line x1="172.55" y1="441.08" x2="172.55" y2="443.68" stroke="#222" stroke-width="0.9"/>
<line x1="183.8" y1="449.4" x2="183.8" y2="452" stroke="#222" stroke-width="0.9"/>
<line x1="183.8" y1="435.55" x2="183.8" y2="438.15" stroke="#222" stroke-width="0.9"/>
<line x1="195.05" y1="444.1" x2="195.05" y2="446.7" stroke="#222" stroke-width="0.9"/>
<line x1="195.05" y1="430.02" x2="195.05" y2="432.62" stroke="#222" stroke-width="0.9"/>
<line x1="206.3" y1="438.8" x2="206.3" y2="441.4" stroke="#222" stroke-width="0.9"/>
<line x1="206.3" y1="424.5" x2="206.3" y2="427.1" stroke="#222" stroke-width="0.9"/>
<text transform="translate(75.5 442.8) scale(0.86 1)" font-size="7.2" text-anchor="middle" fill="#111">7,5</text>
<text transform="translate(99 446.4) scale(0.86 1)" font-size="7.2" text-anchor="middle" fill="#111">1,9</text>
<text transform="translate(124 450.2) scale(0.86 1)" font-size="7.2" text-anchor="middle" fill="#111">0,5</text>
<text transform="translate(147.5 454.6) scale(0.86 1)" font-size="7.2" text-anchor="middle" fill="#111">0,1</text>
<text transform="translate(165.2 454.6) rotate(-28) scale(0.9 1)" font-size="7.9" text-anchor="middle" fill="#111">1250</text>
<text transform="translate(178.6 447) rotate(-28) scale(0.9 1)" font-size="7.9" text-anchor="middle" fill="#111">313</text>
<text transform="translate(189.4 440.8) rotate(-28) scale(0.9 1)" font-size="7.9" text-anchor="middle" fill="#111">78</text>
<text transform="translate(199.2 435.6) rotate(-28) scale(0.9 1)" font-size="7.9" text-anchor="middle" fill="#111">20</text>
<text transform="translate(104.6 464.4) rotate(9) scale(0.81 1)" font-size="9.7" text-anchor="middle" fill="#111" font-style="italic">Quizartinib nM</text>
<text transform="translate(198.2 457.6) rotate(-28) scale(0.81 1)" font-size="9.7" text-anchor="middle" fill="#111">Palbociclib nM</text>
<text transform="translate(29.4 398.5) rotate(-90) scale(0.82 1)" font-size="9.8" text-anchor="middle" fill="#111">Relative deviation</text>
<text transform="translate(38.9 398.5) rotate(-90) scale(0.82 1)" font-size="9.8" text-anchor="middle" fill="#111">form BLISS additivity</text>
</g>
<g id="c2">
<defs><linearGradient id="wg3" x1="0" y1="0" x2="1" y2="0"><stop offset="0" stop-color="#e0e0e0"/><stop offset="0.5" stop-color="#e8e8e8"/><stop offset="0.9" stop-color="#ffffff"/></linearGradient></defs>
<polygon points="63,498 137.6,490.5 137.6,562.4 63,587.6" fill="#a0a0a0" stroke="#4a4a4a" stroke-width="0.9"/>
<polygon points="137.6,490.5 220,493.8 220,572.8 137.6,562.4" fill="url(#wg3)" stroke="#4a4a4a" stroke-width="0.9"/>
<polygon points="63,573 160.7,586.6 220,559 137.6,549.4" fill="#adadad" stroke="none" stroke-width="0.5"/>
<polygon points="63,573 137.6,549.4 137.6,562.4 93.61,577.26" fill="#b9b9b9" stroke="none" stroke-width="0.5"/>
<polygon points="63,573 160.7,586.6 160.7,601.6 63,587.6" fill="#b4b4b4" stroke="#4a4a4a" stroke-width="0.9"/>
<polygon points="160.7,586.6 220,559 220,572.8 160.7,601.6" fill="#a9a9a9" stroke="#4a4a4a" stroke-width="0.9"/>
<polygon points="63,573 63,587.6 93.61,577.26" fill="#8c8c8c" stroke="#4a4a4a" stroke-width="0.9"/>
<polygon points="137.6,549.4 137.6,562.4 220,572.8 220,559" fill="#ffffff" stroke="#6a6a6a" stroke-width="0.7"/>
<line x1="93.61" y1="577.26" x2="137.6" y2="562.4" stroke="#3a3a3a" stroke-width="1.1"/>
<line x1="63" y1="573" x2="137.6" y2="549.4" stroke="#2a2a2a" stroke-width="1.1"/>
<line x1="137.6" y1="549.4" x2="220" y2="559" stroke="#6a6a6a" stroke-width="0.8"/>
<polyline points="63,573 160.7,586.6 220,559" fill="none" stroke="#1e1e1e" stroke-width="1.2"/>
<polyline points="63,587.6 160.7,601.6 220,572.8" fill="none" stroke="#2a2a2a" stroke-width="1"/>
<line x1="160.7" y1="586.6" x2="160.7" y2="601.6" stroke="#2a2a2a" stroke-width="1.1"/>
<line x1="220" y1="493.8" x2="220" y2="572.8" stroke="#3a3a3a" stroke-width="1.1"/>
<line x1="137.6" y1="490.5" x2="137.6" y2="562.4" stroke="#555" stroke-width="0.9"/>
<polyline points="63,498 137.6,490.5 220,493.8" fill="none" stroke="#3a3a3a" stroke-width="1"/>
<polygon points="134.79,553.9 145.24,555.15 151.55,552.99 141.27,551.78" fill="#949494" stroke="#1c1c1c" stroke-width="0.9" stroke-linejoin="round"/>
<line x1="134.79" y1="553.9" x2="151.55" y2="552.99" stroke="#2a2a2a" stroke-width="0.55"/>
<line x1="145.24" y1="555.15" x2="141.27" y2="551.78" stroke="#2a2a2a" stroke-width="0.55"/>
<polygon points="162.32,557.2 173.16,558.49 179.02,556.23 168.35,554.97" fill="#949494" stroke="#1c1c1c" stroke-width="0.9" stroke-linejoin="round"/>
<line x1="162.32" y1="557.2" x2="179.02" y2="556.23" stroke="#2a2a2a" stroke-width="0.55"/>
<line x1="173.16" y1="558.49" x2="168.35" y2="554.97" stroke="#2a2a2a" stroke-width="0.55"/>
<polygon points="191.48,559.41 202.74,560.76 199.85,509.89" fill="#707070" stroke="#707070" stroke-width="0.3" stroke-linejoin="round"/>
<polygon points="202.74,560.76 208.09,558.38 199.85,509.89" fill="#3c3c3c" stroke="#3c3c3c" stroke-width="0.3" stroke-linejoin="round"/>
<polyline points="191.48,559.41 202.74,560.76 208.09,558.38" fill="none" stroke="#2e2e2e" stroke-width="0.5"/>
<polygon points="118.09,559.37 128.96,560.73 135.93,558.34 125.24,557.03" fill="#949494" stroke="#1c1c1c" stroke-width="0.9" stroke-linejoin="round"/>
<line x1="118.09" y1="559.37" x2="135.93" y2="558.34" stroke="#2a2a2a" stroke-width="0.55"/>
<line x1="128.96" y1="560.73" x2="125.24" y2="557.03" stroke="#2a2a2a" stroke-width="0.55"/>
<polygon points="146.74,562.94 158.04,564.35 164.52,561.84 153.41,560.48" fill="#949494" stroke="#1c1c1c" stroke-width="0.9" stroke-linejoin="round"/>
<line x1="146.74" y1="562.94" x2="164.52" y2="561.84" stroke="#2a2a2a" stroke-width="0.55"/>
<line x1="158.04" y1="564.35" x2="153.41" y2="560.48" stroke="#2a2a2a" stroke-width="0.55"/>
<polygon points="176.52,565.46 188.27,566.93 185.43,512.87" fill="#9a9a9a" stroke="#9a9a9a" stroke-width="0.3" stroke-linejoin="round"/>
<polygon points="188.27,566.93 194.22,564.28 185.43,512.87" fill="#646464" stroke="#646464" stroke-width="0.3" stroke-linejoin="round"/>
<polyline points="176.52,565.46 188.27,566.93 194.22,564.28" fill="none" stroke="#2e2e2e" stroke-width="0.5"/>
<polygon points="99.57,565.43 110.89,566.91 118.64,564.26 107.51,562.83" fill="#949494" stroke="#1c1c1c" stroke-width="0.9" stroke-linejoin="round"/>
<line x1="99.57" y1="565.43" x2="118.64" y2="564.26" stroke="#2a2a2a" stroke-width="0.55"/>
<line x1="110.89" y1="566.91" x2="107.51" y2="562.83" stroke="#2a2a2a" stroke-width="0.55"/>
<polygon points="129.43,569.33 141.22,570.87 148.44,568.07 136.86,566.59" fill="#949494" stroke="#1c1c1c" stroke-width="0.9" stroke-linejoin="round"/>
<line x1="129.43" y1="569.33" x2="148.44" y2="568.07" stroke="#2a2a2a" stroke-width="0.55"/>
<line x1="141.22" y1="570.87" x2="136.86" y2="566.59" stroke="#2a2a2a" stroke-width="0.55"/>
<polygon points="160.53,572.19 172.83,573.79 170.07,524.81" fill="#c6c6c6" stroke="#c6c6c6" stroke-width="0.3" stroke-linejoin="round"/>
<polygon points="172.83,573.79 179.46,570.84 170.07,524.81" fill="#888888" stroke="#888888" stroke-width="0.3" stroke-linejoin="round"/>
<polyline points="160.53,572.19 172.83,573.79 179.46,570.84" fill="none" stroke="#2e2e2e" stroke-width="0.5"/>
<polygon points="78.93,572.19 90.74,573.81 99.4,570.85 87.8,569.29" fill="#949494" stroke="#1c1c1c" stroke-width="0.9" stroke-linejoin="round"/>
<line x1="78.93" y1="572.19" x2="99.4" y2="570.85" stroke="#2a2a2a" stroke-width="0.55"/>
<line x1="90.74" y1="573.81" x2="87.8" y2="569.29" stroke="#2a2a2a" stroke-width="0.55"/>
<polygon points="110.09,576.46 122.42,578.15 130.5,575.02 118.4,573.4" fill="#949494" stroke="#1c1c1c" stroke-width="0.9" stroke-linejoin="round"/>
<line x1="110.09" y1="576.46" x2="130.5" y2="575.02" stroke="#2a2a2a" stroke-width="0.55"/>
<line x1="122.42" y1="578.15" x2="118.4" y2="573.4" stroke="#2a2a2a" stroke-width="0.55"/>
<polygon points="142.63,579.73 155.51,581.49 152.88,543.55" fill="#646464" stroke="#646464" stroke-width="0.3" stroke-linejoin="round"/>
<polygon points="155.51,581.49 162.96,578.18 152.88,543.55" fill="#303030" stroke="#303030" stroke-width="0.3" stroke-linejoin="round"/>
<polyline points="142.63,579.73 155.51,581.49 162.96,578.18" fill="none" stroke="#2e2e2e" stroke-width="0.5"/>
<line x1="63" y1="497.6" x2="63" y2="587.9" stroke="#222" stroke-width="1"/>
<line x1="59.8" y1="497.9" x2="63" y2="497.9" stroke="#222" stroke-width="0.9"/>
<text transform="translate(56 500.5) scale(0.84 1)" font-size="7.3" text-anchor="end" fill="#111">1</text>
<line x1="59.8" y1="512.7" x2="63" y2="512.7" stroke="#222" stroke-width="0.9"/>
<text transform="translate(56 515.3) scale(0.84 1)" font-size="7.3" text-anchor="end" fill="#111">0,8</text>
<line x1="59.8" y1="527.8" x2="63" y2="527.8" stroke="#222" stroke-width="0.9"/>
<text transform="translate(56 530.4) scale(0.84 1)" font-size="7.3" text-anchor="end" fill="#111">0,6</text>
<line x1="59.8" y1="542.9" x2="63" y2="542.9" stroke="#222" stroke-width="0.9"/>
<text transform="translate(56 545.5) scale(0.84 1)" font-size="7.3" text-anchor="end" fill="#111">0,4</text>
<line x1="59.8" y1="558" x2="63" y2="558" stroke="#222" stroke-width="0.9"/>
<text transform="translate(56 560.6) scale(0.84 1)" font-size="7.3" text-anchor="end" fill="#111">0,2</text>
<line x1="59.8" y1="573" x2="63" y2="573" stroke="#222" stroke-width="0.9"/>
<text transform="translate(56 575.6) scale(0.84 1)" font-size="7.3" text-anchor="end" fill="#111">0</text>
<line x1="59.8" y1="587.6" x2="63" y2="587.6" stroke="#222" stroke-width="0.9"/>
<text transform="translate(56 590.2) scale(0.84 1)" font-size="7.3" text-anchor="end" fill="#111">-0,2</text>
<line x1="95.57" y1="577.53" x2="95.57" y2="580.33" stroke="#222" stroke-width="0.9"/>
<line x1="128.13" y1="582.07" x2="128.13" y2="584.87" stroke="#222" stroke-width="0.9"/>
<line x1="175.52" y1="594.4" x2="175.52" y2="597" stroke="#222" stroke-width="0.9"/>
<line x1="175.52" y1="579.7" x2="175.52" y2="582.3" stroke="#222" stroke-width="0.9"/>
<line x1="190.35" y1="587.2" x2="190.35" y2="589.8" stroke="#222" stroke-width="0.9"/>
<line x1="190.35" y1="572.8" x2="190.35" y2="575.4" stroke="#222" stroke-width="0.9"/>
<line x1="205.18" y1="580" x2="205.18" y2="582.6" stroke="#222" stroke-width="0.9"/>
<line x1="205.18" y1="565.9" x2="205.18" y2="568.5" stroke="#222" stroke-width="0.9"/>
<line x1="220" y1="572.8" x2="220" y2="575.4" stroke="#222" stroke-width="0.9"/>
<line x1="220" y1="559" x2="220" y2="561.6" stroke="#222" stroke-width="0.9"/>
<text transform="translate(75.8 582.2) scale(0.86 1)" font-size="7.2" text-anchor="middle" fill="#111">222</text>
<text transform="translate(108.2 588) scale(0.86 1)" font-size="7.2" text-anchor="middle" fill="#111">74</text>
<text transform="translate(142 592.8) scale(0.86 1)" font-size="7.2" text-anchor="middle" fill="#111">25</text>
<text transform="translate(169.2 591.4) scale(0.86 1)" font-size="7.2" text-anchor="middle" fill="#111">667</text>
<text transform="translate(186.6 584.2) scale(0.86 1)" font-size="7.2" text-anchor="middle" fill="#111">222</text>
<text transform="translate(200.2 577.4) scale(0.86 1)" font-size="7.2" text-anchor="middle" fill="#111">74</text>
<text transform="translate(213.8 571.2) scale(0.86 1)" font-size="7.2" text-anchor="middle" fill="#111">25</text>
<text transform="translate(99.6 604.4) rotate(9) scale(0.81 1)" font-size="9.7" text-anchor="middle" fill="#111" font-style="italic">Tandutinib nM</text>
<text transform="translate(197.6 598.8) rotate(-30) scale(0.81 1)" font-size="9.7" text-anchor="middle" fill="#111">Palbociclib nM</text>
<text transform="translate(29.4 539) rotate(-90) scale(0.82 1)" font-size="9.8" text-anchor="middle" fill="#111">Relative deviation</text>
<text transform="translate(38.9 539) rotate(-90) scale(0.82 1)" font-size="9.8" text-anchor="middle" fill="#111">form BLISS additivity</text>
</g>
</g>
<g id="panelD">
<text transform="translate(263.6 349)" font-size="12" text-anchor="start" fill="#000" font-weight="bold">D</text>
<line x1="308.4" y1="356.2" x2="308.4" y2="463" stroke="#111" stroke-width="1.25"/>
<line x1="307.8" y1="462.4" x2="426.3" y2="462.4" stroke="#111" stroke-width="1.25"/>
<line x1="305.4" y1="462.4" x2="308.4" y2="462.4" stroke="#111" stroke-width="1"/>
<text transform="translate(302.2 464.7)" font-size="6.4" text-anchor="end" fill="#111">0</text>
<line x1="305.4" y1="410.4" x2="308.4" y2="410.4" stroke="#111" stroke-width="1"/>
<text transform="translate(302.2 412.7)" font-size="6.4" text-anchor="end" fill="#111">500</text>
<line x1="305.4" y1="358.4" x2="308.4" y2="358.4" stroke="#111" stroke-width="1"/>
<text transform="translate(302.2 360.7)" font-size="6.4" text-anchor="end" fill="#111">1000</text>
<line x1="308.4" y1="462.4" x2="308.4" y2="465.4" stroke="#111" stroke-width="1"/>
<line x1="327.57" y1="462.4" x2="327.57" y2="465.4" stroke="#111" stroke-width="1"/>
<line x1="346.73" y1="462.4" x2="346.73" y2="465.4" stroke="#111" stroke-width="1"/>
<line x1="365.9" y1="462.4" x2="365.9" y2="465.4" stroke="#111" stroke-width="1"/>
<line x1="385.07" y1="462.4" x2="385.07" y2="465.4" stroke="#111" stroke-width="1"/>
<line x1="404.23" y1="462.4" x2="404.23" y2="465.4" stroke="#111" stroke-width="1"/>
<line x1="423.4" y1="462.4" x2="423.4" y2="465.4" stroke="#111" stroke-width="1"/>
<text transform="translate(308.4 474.6)" font-size="6.4" text-anchor="middle" fill="#111">0</text>
<text transform="translate(365.9 474.6)" font-size="6.4" text-anchor="middle" fill="#111">1500</text>
<text transform="translate(423.4 474.6)" font-size="6.4" text-anchor="middle" fill="#111">3000</text>
<text transform="translate(280.8 410.6) rotate(-90) scale(0.82 1)" font-size="9.8" text-anchor="middle" fill="#111">Palbociclib nM</text>
<text transform="translate(365.5 486.6) scale(0.82 1)" font-size="9.8" text-anchor="middle" fill="#111">TCS-359 nM</text>
<line x1="308.4" y1="383" x2="399.5" y2="462.4" stroke="#111" stroke-width="1.4" stroke-dasharray="3.4 2.2"/>
<line x1="308.4" y1="426.2" x2="342.5" y2="462.4" stroke="#111" stroke-width="1.4" stroke-dasharray="3.4 2.2"/>
<line x1="308.4" y1="445.8" x2="321.3" y2="462.4" stroke="#111" stroke-width="1.4" stroke-dasharray="3.4 2.2"/>
<polygon points="308.4,380.7 310.7,384.84 306.1,384.84" fill="none" stroke="#111" stroke-width="1.1"/>
<polygon points="399.5,459.8 401.8,463.94 397.2,463.94" fill="none" stroke="#111" stroke-width="1.1"/>
<polygon points="321.3,432.2 323.6,436.34 319,436.34" fill="none" stroke="#111" stroke-width="1.1"/>
<rect x="306.5" y="424.3" width="3.8" height="3.8" fill="none" stroke="#111" stroke-width="1.1"/>
<rect x="340.6" y="460.5" width="3.8" height="3.8" fill="none" stroke="#111" stroke-width="1.1"/>
<rect x="311.4" y="449.4" width="3.8" height="3.8" fill="none" stroke="#111" stroke-width="1.1"/>
<circle cx="308.4" cy="445.8" r="2" fill="none" stroke="#111" stroke-width="1.1"/>
<circle cx="321.3" cy="462.4" r="2" fill="none" stroke="#111" stroke-width="1.1"/>
<circle cx="310.2" cy="458" r="2" fill="none" stroke="#111" stroke-width="1.1"/>
<circle cx="406.8" cy="363.8" r="1.9" fill="none" stroke="#111" stroke-width="1.1"/>
<rect x="405" y="369.5" width="3.6" height="3.6" fill="none" stroke="#111" stroke-width="1.1"/>
<polygon points="406.8,376.7 409,380.66 404.6,380.66" fill="none" stroke="#111" stroke-width="1.1"/>
<text transform="translate(412.5 365.8)" font-size="5.6" text-anchor="start" fill="#111">Fa = 0.5</text>
<text transform="translate(412.5 373.3)" font-size="5.6" text-anchor="start" fill="#111">Fa = 0.75</text>
<text transform="translate(412.5 380.8)" font-size="5.6" text-anchor="start" fill="#111">Fa = 0.9</text>
<line x1="358.5" y1="497.4" x2="358.5" y2="539.4" stroke="#111" stroke-width="1.1"/>
<line x1="405.7" y1="497.4" x2="405.7" y2="539.4" stroke="#111" stroke-width="1.1"/>
<line x1="455.1" y1="497.4" x2="455.1" y2="539.4" stroke="#111" stroke-width="1.1"/>
<line x1="505.5" y1="497.4" x2="505.5" y2="539.4" stroke="#111" stroke-width="1.1"/>
<line x1="285.8" y1="518.5" x2="505.5" y2="518.5" stroke="#111" stroke-width="1.1"/>
<text transform="translate(315.6 508.8)" font-size="6.8" text-anchor="middle" fill="#111" font-weight="bold">CI values at</text>
<text transform="translate(381.7 508.8)" font-size="6.8" text-anchor="middle" fill="#111" font-weight="bold">ED50</text>
<text transform="translate(430.4 508.8)" font-size="6.8" text-anchor="middle" fill="#111" font-weight="bold">ED75</text>
<text transform="translate(480.4 508.8)" font-size="6.8" text-anchor="middle" fill="#111" font-weight="bold">ED90</text>
<text transform="translate(293.2 528.2)" font-size="6.7" text-anchor="start" fill="#111">Combinatorial</text>
<text transform="translate(293.2 535.9)" font-size="6.7" text-anchor="start" fill="#111">treatment</text>
<text transform="translate(382 528.2)" font-size="6.75" text-anchor="middle" fill="#111">0.39558</text>
<text transform="translate(430.4 528.2)" font-size="6.75" text-anchor="middle" fill="#111">0.44109</text>
<text transform="translate(480.2 528.2)" font-size="6.75" text-anchor="middle" fill="#111">0.49550</text>
</g>
<g id="panelE">
<text transform="translate(272.4 565)" font-size="12" text-anchor="start" fill="#000" font-weight="bold">E</text>
<line x1="308.4" y1="573" x2="308.4" y2="675.5" stroke="#111" stroke-width="1.25"/>
<line x1="307.8" y1="674.9" x2="422.6" y2="674.9" stroke="#111" stroke-width="1.25"/>
<line x1="305.4" y1="674.9" x2="308.4" y2="674.9" stroke="#111" stroke-width="1"/>
<text transform="translate(303.2 677.3)" font-size="6.6" text-anchor="end" fill="#111">0.0</text>
<line x1="305.4" y1="641.8" x2="308.4" y2="641.8" stroke="#111" stroke-width="1"/>
<text transform="translate(303.2 644.2)" font-size="6.6" text-anchor="end" fill="#111">0.5</text>
<line x1="305.4" y1="608.7" x2="308.4" y2="608.7" stroke="#111" stroke-width="1"/>
<text transform="translate(303.2 611.1)" font-size="6.6" text-anchor="end" fill="#111">1.0</text>
<line x1="305.4" y1="575.6" x2="308.4" y2="575.6" stroke="#111" stroke-width="1"/>
<text transform="translate(303.2 578)" font-size="6.6" text-anchor="end" fill="#111">1.5</text>
<line x1="344.5" y1="674.9" x2="344.5" y2="677.9" stroke="#111" stroke-width="1"/>
<line x1="382" y1="674.9" x2="382" y2="677.9" stroke="#111" stroke-width="1"/>
<line x1="419.5" y1="674.9" x2="419.5" y2="677.9" stroke="#111" stroke-width="1"/>
<line x1="308.4" y1="674.9" x2="308.4" y2="677.9" stroke="#111" stroke-width="1.2"/>
<text x="307.6" y="687" font-size="6.4" text-anchor="middle" fill="#111">10<tspan font-size="4.2" dy="-2.6">1</tspan></text>
<text x="345.1" y="687" font-size="6.4" text-anchor="middle" fill="#111">10<tspan font-size="4.2" dy="-2.6">2</tspan></text>
<text x="382.6" y="687" font-size="6.4" text-anchor="middle" fill="#111">10<tspan font-size="4.2" dy="-2.6">3</tspan></text>
<text x="420.1" y="687" font-size="6.4" text-anchor="middle" fill="#111">10<tspan font-size="4.2" dy="-2.6">4</tspan></text>
<text transform="translate(284.6 625.6) rotate(-90) scale(0.81 1)" font-size="9.8" text-anchor="middle" fill="#111">Viability relative to vehicle</text>
<text transform="translate(364 698.8) scale(0.82 1)" font-size="9.8" text-anchor="middle" fill="#111">TCS-359 nM</text>
<polyline points="318.8,609.25 320.1,609.33 321.41,609.42 322.71,609.53 324.01,609.65 325.32,609.79 326.62,609.95 327.92,610.14 329.23,610.35 330.53,610.59 331.83,610.86 333.14,611.17 334.44,611.53 335.74,611.93 337.05,612.39 338.35,612.91 339.65,613.49 340.96,614.15 342.26,614.89 343.56,615.71 344.87,616.64 346.17,617.66 347.47,618.79 348.78,620.03 350.08,621.39 351.38,622.87 352.69,624.47 353.99,626.18 355.29,628 356.6,629.92 357.9,631.93 359.2,634.02 360.51,636.17 361.81,638.35 363.11,640.55 364.42,642.74 365.72,644.91 367.02,647.04 368.33,649.1 369.63,651.08 370.93,652.97 372.24,654.75 373.54,656.42 374.84,657.97 376.15,659.41 377.45,660.72 378.75,661.93 380.06,663.02 381.36,664 382.66,664.89 383.97,665.68 385.27,666.39 386.57,667.02 387.88,667.58 389.18,668.07 390.48,668.51 391.79,668.9 393.09,669.24 394.39,669.53 395.7,669.79 397,670.02" fill="none" stroke="#111" stroke-width="1.6"/>
<polyline points="317.68,612.93 319,613.61 320.32,614.37 321.64,615.25 322.96,616.24 324.29,617.36 325.61,618.61 326.93,620.01 328.25,621.56 329.57,623.27 330.9,625.13 332.22,627.14 333.54,629.29 334.86,631.56 336.18,633.94 337.51,636.4 338.83,638.92 340.15,641.46 341.47,643.99 342.79,646.48 344.12,648.9 345.44,651.23 346.76,653.44 348.08,655.52 349.41,657.45 350.73,659.24 352.05,660.86 353.37,662.34 354.69,663.66 356.02,664.85 357.34,665.9 358.66,666.83 359.98,667.65 361.3,668.36 362.63,668.99 363.95,669.53 365.27,670.01 366.59,670.41 367.91,670.77 369.24,671.07 370.56,671.34 371.88,671.56 373.2,671.76 374.52,671.92 375.85,672.07 377.17,672.19 378.49,672.29 379.81,672.38 381.13,672.46 382.46,672.53 383.78,672.58 385.1,672.63 386.42,672.67 387.75,672.71 389.07,672.74 390.39,672.76 391.71,672.79 393.03,672.8 394.36,672.82 395.68,672.83 397,672.85" fill="none" stroke="#111" stroke-width="1.6" stroke-dasharray="3.4 2"/>
<circle cx="330" cy="614.3" r="2.1" fill="#111" stroke="none" stroke-width="0.5"/>
<line x1="341.3" y1="608" x2="341.3" y2="596.3" stroke="#111" stroke-width="1.4"/>
<line x1="338.8" y1="596.3" x2="343.8" y2="596.3" stroke="#111" stroke-width="1.4"/>
<circle cx="341.3" cy="608" r="2.1" fill="#111" stroke="none" stroke-width="0.5"/>
<line x1="352" y1="628.3" x2="352" y2="624.3" stroke="#111" stroke-width="1.4"/>
<line x1="349.5" y1="624.3" x2="354.5" y2="624.3" stroke="#111" stroke-width="1.4"/>
<circle cx="352" cy="628.3" r="2.1" fill="#111" stroke="none" stroke-width="0.5"/>
<line x1="363.8" y1="638.8" x2="363.8" y2="631.3" stroke="#111" stroke-width="1.4"/>
<line x1="361.3" y1="631.3" x2="366.3" y2="631.3" stroke="#111" stroke-width="1.4"/>
<circle cx="363.8" cy="638.8" r="2.1" fill="#111" stroke="none" stroke-width="0.5"/>
<circle cx="374.5" cy="660" r="2.1" fill="#111" stroke="none" stroke-width="0.5"/>
<circle cx="385.5" cy="665.8" r="2.1" fill="#111" stroke="none" stroke-width="0.5"/>
<circle cx="397" cy="670" r="2.1" fill="#111" stroke="none" stroke-width="0.5"/>
<circle cx="318.8" cy="608.8" r="1.9" fill="#fff" stroke="#111" stroke-width="1.2"/>
<line x1="330" y1="624.3" x2="330" y2="618.8" stroke="#111" stroke-width="1.4"/>
<line x1="327.5" y1="618.8" x2="332.5" y2="618.8" stroke="#111" stroke-width="1.4"/>
<circle cx="330" cy="624.3" r="1.9" fill="#fff" stroke="#111" stroke-width="1.2"/>
<line x1="341.3" y1="646.3" x2="341.3" y2="638" stroke="#111" stroke-width="1.4"/>
<line x1="338.8" y1="638" x2="343.8" y2="638" stroke="#111" stroke-width="1.4"/>
<circle cx="341.3" cy="646.3" r="1.9" fill="#fff" stroke="#111" stroke-width="1.2"/>
<circle cx="352" cy="653.3" r="1.9" fill="#fff" stroke="#111" stroke-width="1.2"/>
<circle cx="363.8" cy="669.5" r="1.9" fill="#fff" stroke="#111" stroke-width="1.2"/>
<circle cx="374.5" cy="672" r="1.9" fill="#fff" stroke="#111" stroke-width="1.2"/>
<circle cx="385.5" cy="672.5" r="1.9" fill="#fff" stroke="#111" stroke-width="1.2"/>
<circle cx="397" cy="672" r="1.9" fill="#fff" stroke="#111" stroke-width="1.2"/>
<line x1="363.8" y1="581.3" x2="376.3" y2="581.3" stroke="#111" stroke-width="1.6"/>
<circle cx="370" cy="581.3" r="1.9" fill="#111" stroke="none" stroke-width="0.5"/>
<text transform="translate(378.8 583.3)" font-size="5.6" text-anchor="start" fill="#111">Vehicle</text>
<line x1="363.8" y1="590.5" x2="376.3" y2="590.5" stroke="#111" stroke-width="1.6" stroke-dasharray="3.2 2"/>
<circle cx="370" cy="590.5" r="1.9" fill="#fff" stroke="#111" stroke-width="1.2"/>
<text transform="translate(378.8 592.5)" font-size="5.6" text-anchor="start" fill="#111">Palbociclib</text>
</g>
</svg>
</body>
</html>
